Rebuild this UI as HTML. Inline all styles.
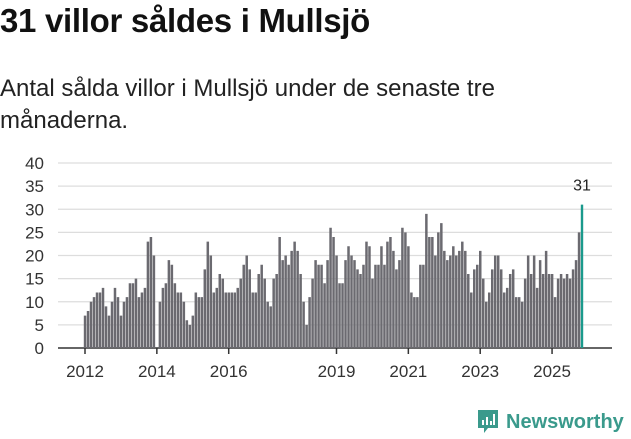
<!DOCTYPE html>
<html><head><meta charset="utf-8"><style>
body{margin:0;width:631px;height:439px;background:#fff;font-family:"Liberation Sans",sans-serif;overflow:hidden;position:relative}
#title{position:absolute;left:0;top:2px;font-size:33px;font-weight:bold;color:#111;margin:0;letter-spacing:-0.3px}
#sub{position:absolute;left:0;top:73px;font-size:24px;line-height:32px;color:#222;width:520px}
svg{position:absolute;left:0;top:0}
</style></head><body>
<h1 id="title">31 villor såldes i Mullsjö</h1>
<div id="sub">Antal sålda villor i Mullsjö under de senaste tre månaderna.</div>
<svg id="chart" width="631" height="439"></svg>
<div style="position:absolute;left:476px;top:408px;display:flex;align-items:center">
<svg width="24" height="28" viewBox="0 0 24 28" style="position:static"><path d="M2 2h20v18H12l-4 5v-5H2z" fill="#3a9a8c"/><rect x="6" y="12" width="2" height="5" fill="#fff"/><rect x="10" y="9" width="2" height="8" fill="#fff"/><rect x="14" y="13" width="2" height="4" fill="#fff"/><rect x="17" y="6" width="2" height="11" fill="#fff"/></svg>
<span style="color:#3a9a8c;font-size:20px;font-weight:bold;margin-left:6px">Newsworthy</span></div>
<script>
const values=[7,8,10,11,12,12,13,9,7,10,13,11,7,10,11,14,14,15,11,12,13,23,24,20,0,10,13,14,19,18,14,12,12,10,6,5,7,12,11,11,17,23,20,12,13,16,15,12,12,
12,12,13,15,18,20,17,12,12,16,18,15,10,9,15,16,24,19,20,18,21,23,21,16,10,5,11,15,19,18,18,14,19,26,24,20,14,14,19,22,20,19,17,16,18,23,22,15,18,18,22,18,23,24,21,17,19,26,25,22,
12,11,11,18,18,29,24,24,20,25,27,21,19,20,22,20,21,23,21,16,12,17,18,21,15,10,12,17,20,20,17,12,13,16,17,11,11,10,15,20,16,20,13,19,16,21,16,16,11,15,16,15,16,15,17,19,25,31];
const yTicks=[0,5,10,15,20,25,30,35,40];
const xTickYears=[2012,2014,2016,2019,2021,2023,2025];
const NS="http://www.w3.org/2000/svg";
const svg=document.getElementById('chart');
const y0=348,y40=163,x0=85,xN=582;
const yS=v=>y0-(v/40)*(y0-y40);
const xS=i=>x0+i*(xN-x0)/(values.length-1);
function mk(t,a){const e=document.createElementNS(NS,t);for(const k in a)e.setAttribute(k,a[k]);svg.appendChild(e);return e;}
yTicks.forEach(v=>{
 const l=mk('line',{x1:58,x2:612,y1:yS(v),y2:yS(v),stroke:v===0?'#333':'#ddd','stroke-width':v===0?1.5:1.2});
 
 
 const t=mk('text',{x:44,y:yS(v)+6,'text-anchor':'end','font-size':17,fill:'#333','font-family':'Liberation Sans'});
 t.textContent=v;
 
 
});
xTickYears.forEach(yr=>{
 const x=xS((yr-2012)*12);
 const l=mk('line',{x1:x,x2:x,y1:348,y2:354,stroke:'#333','stroke-width':1.5});
 
 
 const t=mk('text',{x:x,y:377,'text-anchor':'middle','font-size':17,fill:'#333','font-family':'Liberation Sans'});
 t.textContent=yr;
 
 
});
values.forEach((v,i)=>{
 const last=i===values.length-1;
 const r=mk('rect',{x:xS(i)-1.2,y:yS(v),width:last?2.4:2.5,height:y0-yS(v),fill:last?'#1a9a8c':'#6b6a70'});
 
 
});
const li=values.length-1;
const lt=mk('text',{x:xS(li),y:yS(values[li])-14,'text-anchor':'middle','font-size':16,fill:'#222','font-family':'Liberation Sans'});
lt.textContent=values[li];


</script>
</body></html>
